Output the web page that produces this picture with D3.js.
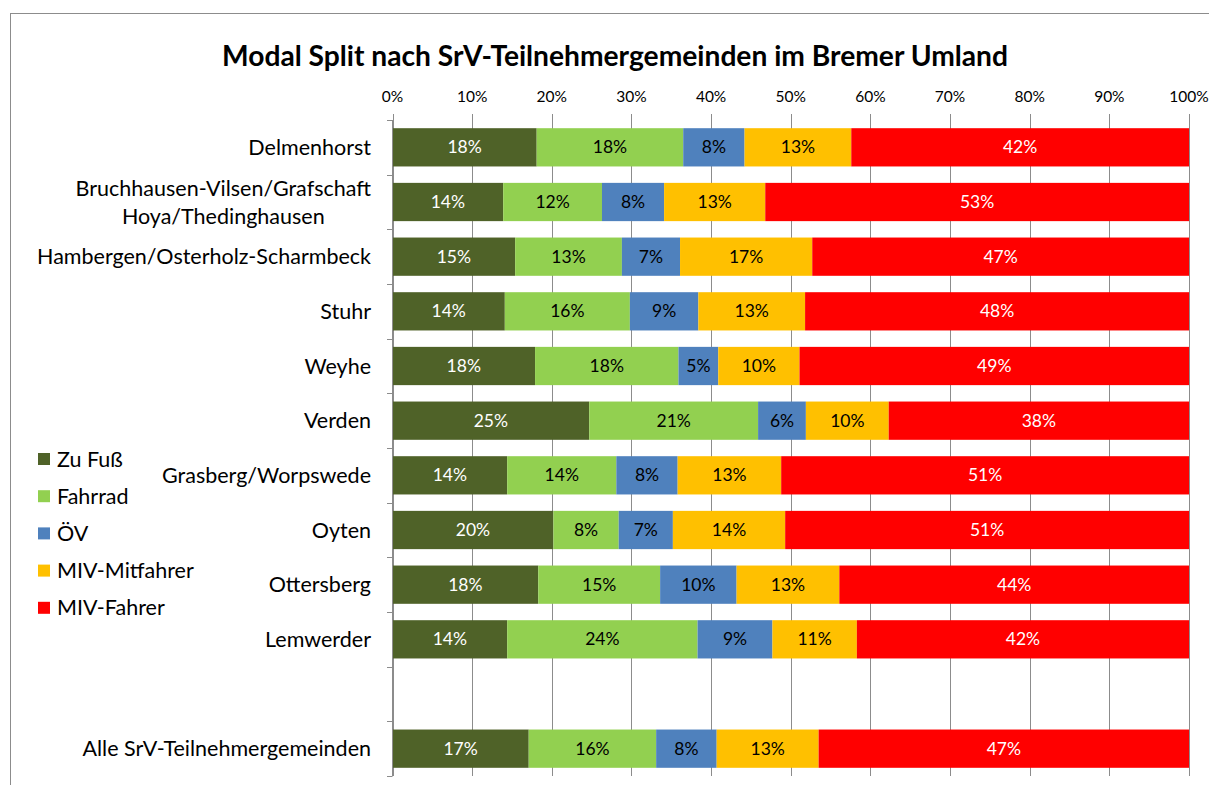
<!DOCTYPE html>
<html>
<head>
<meta charset="utf-8">
<script src="https://cdn.jsdelivr.net/npm/d3@7"></script>
<style>
  body { margin: 0; background: #fff; }
  svg { font-family: Lato, "Open Sans", sans-serif; }
</style>
</head>
<body>
<div id="chart"></div>
<script>
// Data (shares in %)
const categories = [
  "Delmenhorst",
  "Bruchhausen-Vilsen/Grafschaft\nHoya/Thedinghausen",
  "Hambergen/Osterholz-Scharmbeck",
  "Stuhr",
  "Weyhe",
  "Verden",
  "Grasberg/Worpswede",
  "Oyten",
  "Ottersberg",
  "Lemwerder",
  "",
  "Alle SrV-Teilnehmergemeinden"
];
const modes = ["Zu Fuß", "Fahrrad", "ÖV", "MIV-Mitfahrer", "MIV-Fahrer"];
const zuFuss      = [18.1, 13.9, 15.4, 14.1, 17.9, 24.7, 14.4, 20.2, 18.3, 14.4, null, 17.1];
const fahrrad     = [18.4, 12.4, 13.4, 15.7, 18.0, 21.2, 13.7,  8.2, 15.3, 23.9, null, 16.0];
const oev         = [ 7.7,  7.8,  7.3,  8.6,  5.0,  6.0,  7.7,  6.8,  9.6,  9.4, null,  7.6];
const mivMitfahrer= [13.4, 12.7, 16.6, 13.4, 10.2, 10.4, 13.0, 14.1, 12.9, 10.6, null, 12.8];
const mivFahrer   = [42.4, 53.2, 47.3, 48.2, 48.9, 37.7, 51.2, 50.7, 43.9, 41.7, null, 46.5];
const xTicks = [0, 10, 20, 30, 40, 50, 60, 70, 80, 90, 100];

const series = [zuFuss, fahrrad, oev, mivMitfahrer, mivFahrer];
const colors = ["#4F6228", "#92D050", "#4F81BD", "#FFC000", "#FF0000"];
const labelColors = ["#fff", "#000", "#000", "#000", "#fff"];

const W = 1209, H = 785;
const svg = d3.select("#chart").append("svg")
  .attr("width", W)
  .attr("height", H);

// chart area border
svg.append("rect")
  .attr("x", 10.5).attr("y", 13.5)
  .attr("width", 1400).attr("height", 1000)
  .attr("fill", "none")
  .attr("stroke", "#8c8c8c");

// title
svg.append("text")
  .attr("x", 615).attr("y", 66)
  .attr("text-anchor", "middle")
  .attr("font-size", 28.2)
  .attr("font-weight", "bold")
  .text("Modal Split nach SrV-Teilnehmergemeinden im Bremer Umland");

const x = d3.scaleLinear().domain([0, 100]).range([392.5, 1189]);
const y = d3.scaleBand().domain(d3.range(categories.length))
  .range([120, 776])
  .paddingInner(0.3)
  .paddingOuter(0.15);

// gridlines
svg.append("g")
  .selectAll("line")
  .data(xTicks)
  .join("line")
  .attr("x1", d => Math.round(x(d)) + 0.5)
  .attr("x2", d => Math.round(x(d)) + 0.5)
  .attr("y1", 114)
  .attr("y2", 776)
  .attr("stroke", "#8c8c8c");

// top axis labels
svg.append("g")
  .selectAll("text")
  .data(xTicks)
  .join("text")
  .attr("x", d => x(d))
  .attr("y", 102)
  .attr("text-anchor", "middle")
  .attr("font-size", 15.5)
  .text(d => d + "%");

// stacked bars
const stacked = categories.map((c, i) => {
  let acc = 0;
  return series.map((s, k) => {
    const v = s[i];
    const seg = { row: i, k: k, v: v, x0: acc, x1: acc + (v || 0) };
    acc += v || 0;
    return seg;
  });
}).flat().filter(d => d.v !== null);

const bars = svg.append("g");
bars.selectAll("rect")
  .data(stacked)
  .join("rect")
  .attr("x", d => x(d.x0))
  .attr("width", d => x(d.x1) - x(d.x0))
  .attr("y", d => y(d.row))
  .attr("height", y.bandwidth())
  .attr("fill", d => colors[d.k]);

bars.selectAll("text")
  .data(stacked)
  .join("text")
  .attr("x", d => (x(d.x0) + x(d.x1)) / 2)
  .attr("y", d => y(d.row) + y.bandwidth() / 2)
  .attr("dy", "0.35em")
  .attr("text-anchor", "middle")
  .attr("font-size", 17.5)
  .attr("fill", d => labelColors[d.k])
  .text(d => Math.round(d.v) + "%");

// left axis line with ticks at band boundaries
const axisG = svg.append("g");
axisG.append("line")
  .attr("x1", 392.5).attr("x2", 392.5)
  .attr("y1", 120).attr("y2", 776)
  .attr("stroke", "#8c8c8c");
const bounds = d3.range(categories.length + 1).map(i => 120 + i * y.step());
axisG.selectAll(".tick")
  .data(bounds)
  .join("line")
  .attr("x1", 387).attr("x2", 392.5)
  .attr("y1", d => Math.round(d) + 0.5)
  .attr("y2", d => Math.round(d) + 0.5)
  .attr("stroke", "#8c8c8c");

// category labels
const catG = svg.append("g");
categories.forEach((c, i) => {
  if (!c) return;
  const lines = c.split("\n");
  const cy = y(i) + y.bandwidth() / 2;
  const t = catG.append("text")
    .attr("font-size", 21.5)
    .attr("fill", "#000");
  if (lines.length === 1) {
    t.attr("x", 371).attr("y", cy).attr("dy", "0.35em")
      .attr("text-anchor", "end").text(c);
  } else {
    const lh = 28;
    lines.forEach((ln, j) => {
      t.append("tspan")
        .attr("y", cy + (j - (lines.length - 1) / 2) * lh)
        .attr("dy", "0.35em")
        .text(ln);
    });
    const wMax = d3.max(t.selectAll("tspan").nodes(), n => n.getComputedTextLength());
    t.attr("text-anchor", "middle");
    t.selectAll("tspan").attr("x", 371 - wMax / 2);
  }
});

// legend
const legend = svg.append("g")
  .selectAll("g")
  .data(modes)
  .join("g")
  .attr("transform", (d, i) => `translate(38, ${459 + i * 37.2})`);
legend.append("rect")
  .attr("x", 0).attr("y", -6)
  .attr("width", 12).attr("height", 12)
  .attr("fill", (d, i) => colors[i]);
legend.append("text")
  .attr("x", 19).attr("y", 0)
  .attr("dy", "0.35em")
  .attr("font-size", 21.5)
  .text(d => d);
</script>
</body>
</html>
